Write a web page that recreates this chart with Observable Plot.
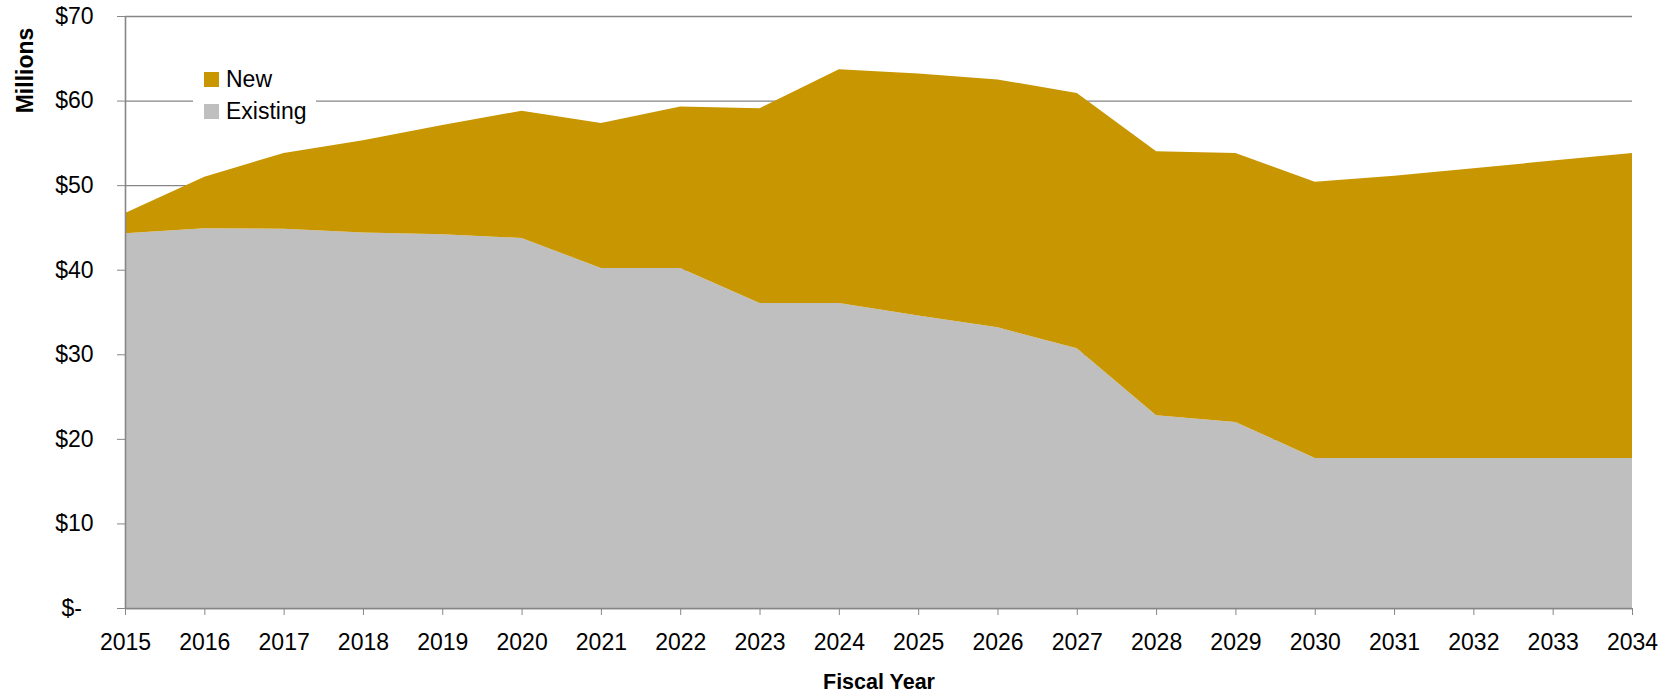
<!DOCTYPE html>
<html>
<head>
<meta charset="utf-8">
<script src="https://cdn.jsdelivr.net/npm/d3@7"></script>
<script src="https://cdn.jsdelivr.net/npm/@observablehq/plot@0.6"></script>
<style>
  html, body { margin: 0; padding: 0; background: #fff; }
  #wrap { position: relative; width: 1677px; height: 695px; font-family: "Liberation Sans", Arial, sans-serif; }
  #legend { position: absolute; left: 193px; top: 62px; width: 123px; height: 66px; background: #fff; }
  .sw { position: absolute; width: 15px; height: 15px; }
  .lt { position: absolute; font-size: 23px; line-height: 23px; color: #000; white-space: nowrap; }
</style>
</head>
<body>
<div id="wrap"></div>
<script>
const years = [2015, 2016, 2017, 2018, 2019, 2020, 2021, 2022, 2023, 2024,
               2025, 2026, 2027, 2028, 2029, 2030, 2031, 2032, 2033, 2034];
const existingValues = [44.3, 44.9, 44.85, 44.4, 44.2, 43.75, 40.2, 40.2, 36.05, 36.05,
                        34.6, 33.2, 30.7, 22.8, 22.0, 17.75, 17.75, 17.75, 17.75, 17.75];
const newValues = [2.4, 6.1, 8.95, 10.9, 12.9, 15.05, 17.15, 19.1, 23.05, 27.65,
                   28.6, 29.3, 30.2, 31.2, 31.8, 32.65, 33.35, 34.25, 35.15, 36.05];
const seriesNames = ["Existing", "New"];
const seriesColors = ["#BFBFBF", "#C89600"];
const yTicks = [0, 10, 20, 30, 40, 50, 60, 70];

const rows = [];
years.forEach((yr, i) => {
  rows.push({year: yr, series: "Existing", value: existingValues[i]});
  rows.push({year: yr, series: "New", value: newValues[i]});
});

const axisGray = "#868686";

const chart = Plot.plot({
  width: 1677,
  height: 695,
  marginLeft: 125,
  marginRight: 45,
  marginTop: 16,
  marginBottom: 87,
  style: {fontFamily: "'Liberation Sans', Arial, sans-serif", background: "#fff"},
  x: {type: "linear", domain: [2015, 2034]},
  y: {domain: [0, 70]},
  color: {domain: seriesNames, range: seriesColors},
  marks: [
    Plot.gridY(yTicks, {stroke: axisGray, strokeOpacity: 1, strokeWidth: 1.3}),
    Plot.areaY(rows, {x: "year", y: "value", fill: "series", order: seriesNames}),
    Plot.ruleX([2015], {stroke: axisGray, strokeWidth: 1.6}),
    Plot.ruleY([0], {stroke: axisGray, strokeWidth: 1.6}),
    Plot.axisY({
      ticks: yTicks,
      tickSize: 8,
      tickPadding: 24,
      tickFormat: d => d === 0 ? "$-\u2002" : "$" + d,
      fontSize: 23,
      stroke: axisGray,
      fill: "#000",
      label: null
    }),
    Plot.axisX({
      ticks: years,
      tickSize: 7,
      tickPadding: 18,
      tickFormat: d => String(d),
      fontSize: 23,
      stroke: axisGray,
      fill: "#000",
      label: null
    }),
    Plot.text(["Fiscal Year"], {
      text: d => d,
      frameAnchor: "bottom",
      dy: 80,
      lineAnchor: "bottom",
      fontSize: 21.5,
      fontWeight: "bold",
      fill: "#000"
    }),
    Plot.text(["Millions"], {
      text: d => d,
      frameAnchor: "top-left",
      dx: -100,
      dy: 54,
      rotate: -90,
      textAnchor: "middle",
      lineAnchor: "middle",
      fontSize: 23,
      fontWeight: "bold",
      fill: "#000"
    })
  ]
});

const wrap = document.getElementById("wrap");
wrap.appendChild(chart);

// Legend overlay (inside plot area, as in the reference)
const legend = document.createElement("div");
legend.id = "legend";
wrap.appendChild(legend);
const legendItems = [
  {name: seriesNames[1], color: seriesColors[1], top: 72},
  {name: seriesNames[0], color: seriesColors[0], top: 104}
];
legendItems.forEach(it => {
  const sw = document.createElement("div");
  sw.className = "sw";
  sw.style.left = "204px";
  sw.style.top = it.top + "px";
  sw.style.background = it.color;
  wrap.appendChild(sw);
  const t = document.createElement("div");
  t.className = "lt";
  t.style.left = "226px";
  t.style.top = (it.top - 4) + "px";
  t.textContent = it.name;
  wrap.appendChild(t);
});
</script>
</body>
</html>
